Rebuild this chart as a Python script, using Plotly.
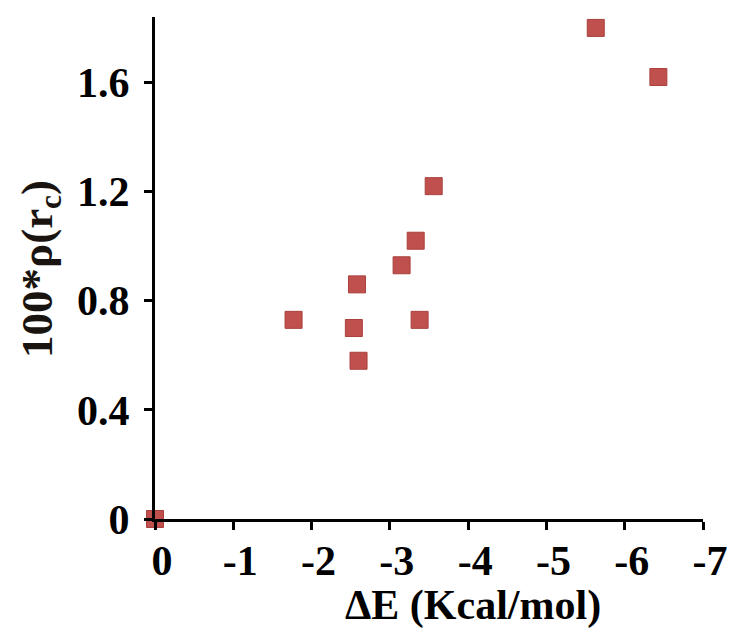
import plotly.graph_objects as go

# Data
delta_e = [0.0, -1.77, -2.54, -2.58, -2.60, -3.15, -3.33, -3.38, -3.56, -5.63, -6.43]
rho_rc = [0.0, 0.73, 0.70, 0.86, 0.58, 0.93, 1.02, 0.73, 1.22, 1.80, 1.62]

x_ticks = [0, -1, -2, -3, -4, -5, -6, -7]
x_tick_labels = ["0", "-1", "-2", "-3", "-4", "-5", "-6", "-7"]
y_ticks = [0, 0.4, 0.8, 1.2, 1.6]
y_tick_labels = ["0", "0.4", "0.8", "1.2", "1.6"]

FONT = "Liberation Serif, Times New Roman, serif"

fig = go.Figure()
fig.add_trace(go.Scatter(
    x=delta_e, y=rho_rc, mode="markers",
    marker=dict(symbol="square", size=17, color="#C0504D",
                line=dict(color="#A9403D", width=1)),
    cliponaxis=False, showlegend=False,
))

# page body has an 8px default margin, so the figure is sized to fit the window
fig.update_layout(
    width=729, height=622,
    margin=dict(l=147, r=14, t=9, b=111),
    paper_bgcolor="white", plot_bgcolor="white",
    font=dict(family=FONT, size=40, color="black"),
    xaxis=dict(
        range=[0, -7], tickvals=x_ticks, ticktext=x_tick_labels,
        showgrid=False, zeroline=False, showline=True, linecolor="black", linewidth=3,
        ticks="outside", ticklen=8, tickwidth=3, tickcolor="black",
        tickfont=dict(family=FONT, size=42, color="black", weight="bold"),
        ticklabelstandoff=-5, ticklabelshift=-7, ticklabeloverflow="allow",
    ),
    yaxis=dict(
        range=[0, 1.84], tickvals=y_ticks, ticktext=y_tick_labels,
        showgrid=False, zeroline=False, showline=True, linecolor="black", linewidth=3,
        ticks="outside", ticklen=8, tickwidth=3, tickcolor="black",
        tickfont=dict(family=FONT, size=42, color="black", weight="bold"),
        ticklabelstandoff=6, ticklabeloverflow="allow",
    ),
    annotations=[
        dict(text="<b>ΔE (Kcal/mol)</b>", xref="paper", yref="paper",
             x=0.581, y=-0.172, xanchor="center", yanchor="middle", showarrow=False,
             font=dict(family=FONT, size=42, color="black")),
        dict(text="<b>100*ρ(r<sub>c</sub>)</b>", xref="paper", yref="paper",
             x=-0.21, y=0.498, xanchor="center", yanchor="middle", showarrow=False,
             textangle=-90, font=dict(family=FONT, size=45, color="#1a1410")),
    ],
)

fig.write_html("out.html")
